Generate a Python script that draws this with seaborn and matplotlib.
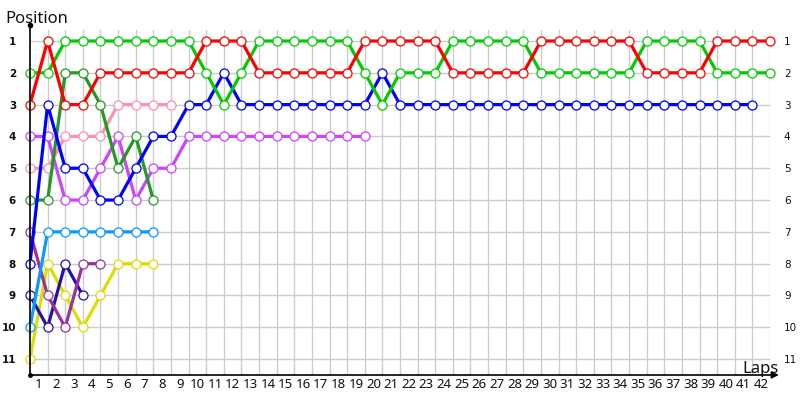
import matplotlib
matplotlib.use("Agg")
import matplotlib.pyplot as plt
import seaborn as sns
import pandas as pd

# ---- data: position of each driver per lap (index = lap number, starting at 0)
red = [3, 1, 3, 3, 2] + [2]*5 + [1]*3 + [2]*6 + [1]*5 + [2]*5 + [1]*6 + [2]*4 + [1]*4
green = [2, 2] + [1]*8 + [2, 3, 2] + [1]*6 + [2, 3] + [2]*3 + [1]*5 + [2]*6 + [1]*4 + [2]*4
blue = [8, 3, 5, 5, 6, 6, 5, 4, 4, 3, 3, 2] + [3]*8 + [2] + [3]*21
violet = [4, 4, 6, 6, 5, 4, 6, 5, 5] + [4]*11
pink = [5, 5, 4, 4, 4, 3, 3, 3, 3]
darkgreen = [6, 6, 2, 2, 3, 5, 4, 6]
lightblue = [10, 7, 7, 7, 7, 7, 7, 7]
yellow = [11, 8, 9, 10, 9, 8, 8, 8]
plum = [7, 9, 10, 8, 8]
navy = [9, 10, 8, 9]

series = {
    "yellow": yellow, "navy": navy, "plum": plum, "lightblue": lightblue,
    "pink": pink, "violet": violet, "darkgreen": darkgreen,
    "blue": blue, "green": green, "red": red,
}
colors = {
    "red": "#FF0000", "green": "#00CC00", "blue": "#0000FF", "violet": "#CC44FF",
    "pink": "#FF8FAF", "darkgreen": "#229922", "lightblue": "#0A9BFF",
    "yellow": "#DDDD00", "plum": "#993399", "navy": "#2211AA",
}
n_laps = 42
positions = list(range(1, 12))
lap_ticks = list(range(1, n_laps + 1))

rows = []
for name, vals in series.items():
    for lap, pos in enumerate(vals):
        rows.append({"driver": name, "lap": lap, "pos": pos})
df = pd.DataFrame(rows)

sns.set_theme(style="white")
plt.rcParams["font.family"] = ["Noto Sans", "DejaVu Sans"]

fig = plt.figure(figsize=(8, 4), dpi=100)
ax = fig.add_axes([30/800, 25/400, 740/800, 345/400])

for name in series:
    sub = df[df.driver == name]
    sns.lineplot(data=sub, x="lap", y="pos", ax=ax, color=colors[name],
                 linewidth=2.3, marker="o", markersize=6.5,
                 markerfacecolor="white", markeredgecolor=colors[name],
                 markeredgewidth=0.9, clip_on=False, zorder=3, legend=False,
                 estimator=None, sort=False)

ax.set_xlim(0, n_laps)
ax.set_ylim(11.5, 0.654)

# grid
ax.set_xticks(lap_ticks)
ax.set_xticklabels([])
ax.set_yticks(positions)
ax.set_yticklabels([str(p) for p in positions])
ax.set_xticks([l - 0.5 for l in lap_ticks], minor=True)
ax.set_xticklabels([str(l) for l in lap_ticks], minor=True, fontsize=9.5)
ax.grid(True, which="major", color="#CCCCCC", linewidth=1)
ax.tick_params(axis="x", which="both", length=0, pad=2, colors="#111111")
ax.tick_params(axis="y", which="both", length=0, labelsize=7.5,
               left=False, right=False, labelleft=True, labelright=True,
               colors="#111111", pad=10)
for t in ax.yaxis.get_major_ticks():
    t.label1.set_fontweight("bold")
    t.label1.set_family("DejaVu Sans")
    t.label2.set_fontweight("normal")
    t.label2.set_family("DejaVu Sans")

for s in ax.spines.values():
    s.set_visible(False)

ax.set_xlabel("")
ax.set_ylabel("")

# axes with arrows
ax.plot([0, 0], [11.5, 0.5], color="black", lw=1.2, clip_on=False, zorder=5)
ax.plot([0], [0.5], marker="o", color="black", markersize=3, clip_on=False, zorder=5)
ax.plot([0], [11.5], marker="o", color="black", markersize=2.5, clip_on=False, zorder=5)
ax.annotate("", xy=(42.5, 11.5), xytext=(0, 11.5), xycoords="data",
            arrowprops=dict(arrowstyle="-|>", color="black", lw=1.2,
                            mutation_scale=10, shrinkA=0, shrinkB=0),
            annotation_clip=False, zorder=5)

fig.text(5/800, 1 - 23/400, "Position", fontsize=12, color="#111111")
fig.text(742/800, 1 - 373/400, "Laps", fontsize=12, color="#111111")

fig.savefig("out.png", dpi=100)
